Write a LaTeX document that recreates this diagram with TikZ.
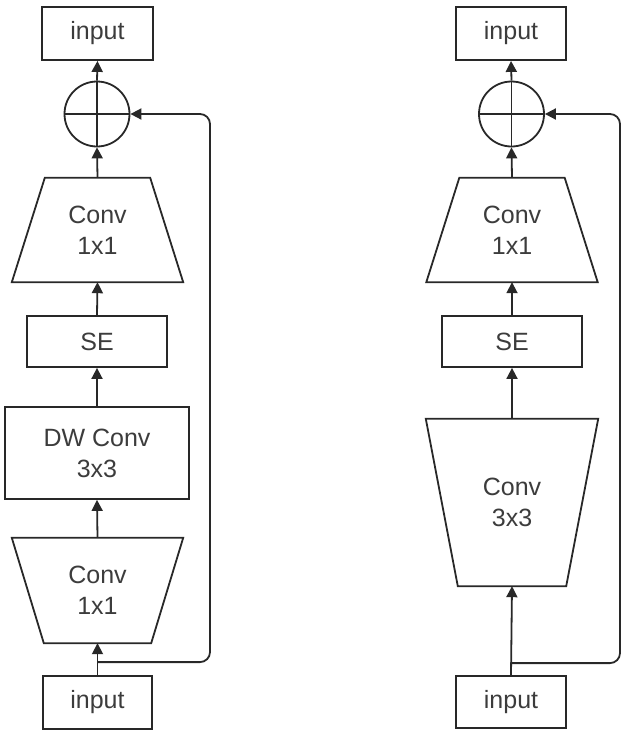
\documentclass[tikz,border=0pt]{standalone}
\usepackage{fontspec}
\setmainfont{Liberation Sans}
\usetikzlibrary{arrows.meta,positioning,shapes.geometric,calc}
\definecolor{inkline}{RGB}{40,40,40}
\definecolor{inktext}{RGB}{60,60,60}

\tikzset{
  outl/.style={draw=inkline,line width=1.8pt},
  trapup/.style={inner sep=0pt,align=center,
    append after command={\pgfextra{\draw[outl]
      ($(\tikzlastnode.north west)+(#1,0)$) -- ($(\tikzlastnode.north east)+(-#1,0)$)
      -- (\tikzlastnode.south east) -- (\tikzlastnode.south west) -- cycle;}}},
  trapdown/.style={inner sep=0pt,align=center,
    append after command={\pgfextra{\draw[outl]
      (\tikzlastnode.north west) -- (\tikzlastnode.north east)
      -- ($(\tikzlastnode.south east)+(-#1,0)$) -- ($(\tikzlastnode.south west)+(#1,0)$) -- cycle;}}}
}

\begin{document}
\begin{tikzpicture}[x=1pt,y=-1pt,
  font=\fontsize{25}{31}\selectfont,
  every node/.style={text=inktext},
  blk/.style={outl,minimum width=#1,minimum height=53pt,inner sep=0pt,align=center},
  sum/.style={outl,circle,minimum size=65pt,inner sep=0pt},
  ar/.style={-{Triangle[length=11pt,width=11pt]},line width=1.8pt,draw=inkline}]

\useasboundingbox (0,0) rectangle (623,731);

% left block
\node[blk=111pt] (inLt) at (97.5,33.5) {input};
\node[sum] (sumL) at (97,114) {};
\node[trapup=33,minimum width=171pt,minimum height=104pt] (c1L) at (97.5,230) {Conv\\1x1};
\node[blk=140pt,minimum height=51pt] (seL) at (97,341.5) {SE};
\node[blk=184pt,minimum height=92pt] (dwL) at (97,453) {DW Conv\\3x3};
\node[trapdown=32,minimum width=171pt,minimum height=105pt] (c0L) at (97.5,590.5) {Conv\\1x1};
\node[blk=109pt] (inLb) at (97.5,702.5) {input};

\draw[outl] (sumL.north) -- (sumL.south) (sumL.west) -- (sumL.east);
\draw[ar] (sumL.north) -- (inLt.south);
\draw[ar] (c1L.north) -- (sumL.south);
\draw[ar] (seL.north) -- (c1L.south);
\draw[ar] (dwL.north) -- (seL.south);
\draw[ar] (c0L.north) -- (dwL.south);
\draw[ar] (inLb.north) -- (c0L.south);

\coordinate (brL) at ($(inLb.north)+(0,-13)$);
\coordinate (fbL) at (210,114);
\draw[ar,rounded corners=10pt] (brL) -| (fbL) -- (sumL.east);

% right block
\node[blk=110pt] (inRt) at (511,33.5) {input};
\node[sum] (sumR) at (511.5,114) {};
\node[trapup=33,minimum width=171pt,minimum height=104pt] (c1R) at (512,230) {Conv\\1x1};
\node[blk=140pt,minimum height=51pt] (seR) at (512,341.5) {SE};
\node[trapdown=32,minimum width=172pt,minimum height=167pt] (c3R) at (512,502.5) {Conv\\3x3};
\node[blk=110pt,minimum height=52pt] (inRb) at (511,702) {input};

\draw[outl] (sumR.north) -- (sumR.south) (sumR.west) -- (sumR.east);
\draw[ar] (sumR.north) -- (inRt.south);
\draw[ar] (c1R.north) -- (sumR.south);
\draw[ar] (seR.north) -- (c1R.south);
\draw[ar] (c3R.north) -- (seR.south);
\draw[ar] (inRb.north) -- (c3R.south);

\coordinate (brR) at ($(inRb.north)+(0,-12)$);
\coordinate (fbR) at (620,114);
\draw[ar,rounded corners=10pt] (brR) -| (fbR) -- (sumR.east);
\end{tikzpicture}
\end{document}
